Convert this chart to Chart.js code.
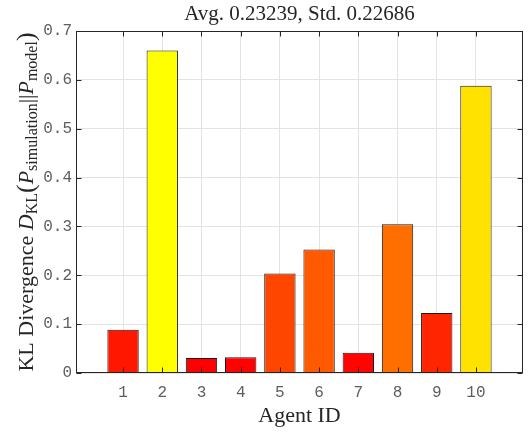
<!DOCTYPE html>
<html>
<head>
<meta charset="utf-8">
<script src="https://cdn.jsdelivr.net/npm/chart.js@4.4.1/dist/chart.umd.min.js"></script>
<style>
  html, body { margin: 0; padding: 0; background: #ffffff; }
  #wrap { width: 529px; height: 432px; }
</style>
</head>
<body>
<div id="wrap"><canvas id="c" width="529" height="432"></canvas></div>
<script>
// Per-agent KL divergence between simulated and model distributions
const agentIds = [1, 2, 3, 4, 5, 6, 7, 8, 9, 10];
const klValues = [0.0885, 0.660, 0.0306, 0.032, 0.2035, 0.2526, 0.0415, 0.3044, 0.1226, 0.588];
const yTicks = [0, 0.1, 0.2, 0.3, 0.4, 0.5, 0.6, 0.7];
const yTickLabels = ['0', '0.1', '0.2', '0.3', '0.4', '0.5', '0.6', '0.7'];
const titleText = 'Avg. 0.23239, Std. 0.22686';
const xLabelText = 'Agent ID';

// "autumn" colormap: red -> yellow, scaled between the smallest and largest value
const lo = Math.min(...klValues), hi = Math.max(...klValues);
const barColors = klValues.map(v => `rgb(255,${Math.round((v - lo) / (hi - lo) * 255)},0)`);

const SERIF = '"Liberation Serif", "Times New Roman", serif';
const MONO = '"Liberation Mono", "Courier New", monospace';
const INK = '#262626';
const TICK_INK = '#5e5e5e';

// Rotated y-axis label with italic symbols and subscripts
function drawYLabel(ctx, cx, cy) {
  const main = 22, sub = 16, paren = 26;
  const parts = [
    { t: 'KL Divergence ', f: `${main}px ${SERIF}`, dy: 0 },
    { t: 'D', f: `italic ${main}px ${SERIF}`, dy: 0 },
    { t: 'KL', f: `${sub}px ${SERIF}`, dy: 4 },
    { t: '(', f: `${paren}px ${SERIF}`, dy: 1 },
    { t: 'P', f: `italic ${main}px ${SERIF}`, dy: 0 },
    { t: 'simulation', f: `${sub}px ${SERIF}`, dy: 4 },
    { t: '||', f: `${main}px ${SERIF}`, dy: 0 },
    { t: 'P', f: `italic ${main}px ${SERIF}`, dy: 0 },
    { t: 'model', f: `${sub}px ${SERIF}`, dy: 4 },
    { t: ')', f: `${paren}px ${SERIF}`, dy: 1 }
  ];
  let total = 0;
  parts.forEach(p => { ctx.font = p.f; p.w = ctx.measureText(p.t).width; total += p.w; });
  ctx.save();
  ctx.translate(cx, cy);
  ctx.rotate(-Math.PI / 2);
  ctx.fillStyle = INK;
  ctx.textAlign = 'left';
  ctx.textBaseline = 'alphabetic';
  let x = -total / 2;
  parts.forEach(p => { ctx.font = p.f; ctx.fillText(p.t, x, p.dy); x += p.w; });
  ctx.restore();
}

// Box outline, inward tick marks, title and axis labels
const axesDecor = {
  id: 'axesDecor',
  afterDraw(chart) {
    const { ctx, chartArea: a, scales: { x, y } } = chart;
    ctx.save();
    const L = Math.round(a.left) + 0.5, R = Math.round(a.right) - 0.5;
    const T = Math.round(a.top) + 0.5, B = Math.round(a.bottom) - 0.5;
    ctx.strokeStyle = INK;
    ctx.lineWidth = 1;
    ctx.strokeRect(L, T, R - L, B - T);
    const tl = 5;
    ctx.beginPath();
    agentIds.forEach(v => {
      const px = Math.round(x.getPixelForValue(v)) + 0.5;
      ctx.moveTo(px, B); ctx.lineTo(px, B - tl);
      ctx.moveTo(px, T); ctx.lineTo(px, T + tl);
    });
    yTicks.forEach(v => {
      const py = Math.round(y.getPixelForValue(v)) + 0.5;
      ctx.moveTo(L, py); ctx.lineTo(L + tl, py);
      ctx.moveTo(R, py); ctx.lineTo(R - tl, py);
    });
    ctx.stroke();

    ctx.fillStyle = INK;
    ctx.textAlign = 'center';
    ctx.textBaseline = 'alphabetic';
    const midX = (a.left + a.right) / 2;
    ctx.font = `21px ${SERIF}`;
    ctx.fillText(titleText, midX, 20);
    ctx.font = `22px ${SERIF}`;
    ctx.fillText(xLabelText, midX, 422);
    drawYLabel(ctx, 33, (a.top + a.bottom) / 2);
    ctx.restore();
  }
};

function build() {
  new Chart(document.getElementById('c'), {
    type: 'bar',
    data: {
      datasets: [{
        data: agentIds.map((id, i) => ({ x: id, y: klValues[i] })),
        backgroundColor: barColors,
        borderColor: '#1a1a1a',
        borderWidth: 1,
        barPercentage: 0.8,
        categoryPercentage: 1
      }]
    },
    options: {
      responsive: false,
      animation: false,
      devicePixelRatio: 1,
      layout: { padding: { top: 31, right: 6, left: 0, bottom: 0 } },
      plugins: { legend: { display: false }, tooltip: { enabled: false }, title: { display: false } },
      scales: {
        x: {
          type: 'linear',
          min: -0.2,
          max: 11.2,
          offset: false,
          afterBuildTicks: s => { s.ticks = agentIds.map(v => ({ value: v })); },
          afterFit: s => { s.height = 59; },
          grid: { color: '#e3e3e3', drawTicks: false, offset: false },
          border: { display: false },
          ticks: {
            font: { family: MONO, size: 16 },
            color: TICK_INK,
            padding: 10,
            autoSkip: false,
            maxRotation: 0,
            callback: v => String(v)
          }
        },
        y: {
          min: 0,
          max: 0.7,
          afterBuildTicks: s => { s.ticks = yTicks.map(v => ({ value: v })); },
          afterFit: s => { s.width = 76; },
          grid: { color: '#e3e3e3', drawTicks: false },
          border: { display: false },
          ticks: {
            font: { family: MONO, size: 16 },
            color: TICK_INK,
            padding: 4,
            callback: v => yTickLabels[yTicks.indexOf(Math.round(v * 10) / 10)]
          }
        }
      }
    },
    plugins: [axesDecor]
  });
}

const fontLoads = [
  `16px ${MONO}`, `21px ${SERIF}`, `italic 22px ${SERIF}`
].map(f => document.fonts.load(f).catch(() => null));
Promise.all(fontLoads).then(build, build);
</script>
</body>
</html>
